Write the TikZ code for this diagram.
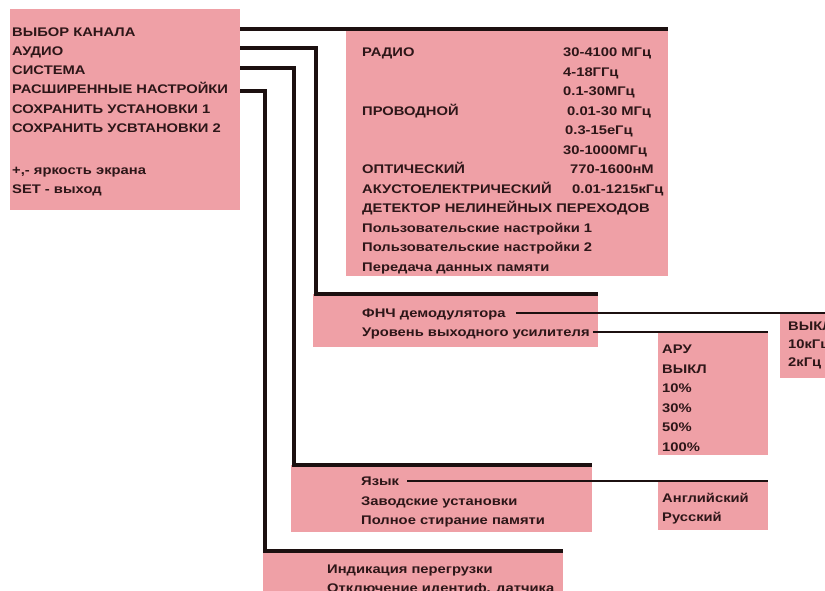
\documentclass[tikz,border=0pt]{standalone}
\usepackage{fontspec}
\newfontfamily\lbfont{Liberation Sans}[FakeStretch=1.18]
\definecolor{boxpink}{RGB}{239,160,166}
\definecolor{ink}{RGB}{45,22,24}
\definecolor{wire}{RGB}{28,16,16}
\begin{document}
\begin{tikzpicture}[x=1pt,y=-1pt,
  box/.style={fill=boxpink, draw=none, inner sep=0pt, anchor=north west},
  lbl/.style={anchor=base west, inner sep=0pt, text=ink, font=\lbfont\bfseries\fontsize{12.5}{14}\selectfont},
  thickwire/.style={draw=wire, line width=4.5pt, line join=miter},
  thinwire/.style={draw=wire, line width=2.3pt}]
\clip (0,0) rectangle (825,590);
\fill[white] (0,0) rectangle (825,590);

% boxes
\node[box, minimum width=230pt, minimum height=201pt] (mainbox) at (10,9) {};
\node[box, minimum width=322pt, minimum height=247pt] (radio) at (346,29) {};
\node[box, minimum width=285pt, minimum height=53pt] (fnch) at (313,294) {};
\node[box, minimum width=110pt, minimum height=123pt] (aru) at (658,332) {};
\node[box, minimum width=60pt, minimum height=65pt] (offbox) at (780,313) {};
\node[box, minimum width=301pt, minimum height=67pt] (lang) at (291,465) {};
\node[box, minimum width=110pt, minimum height=49pt] (eng) at (658,481) {};
\node[box, minimum width=300pt, minimum height=50pt] (ind) at (263,551) {};

% main box texts
\node[lbl] (m1) at (12,36.5) {ВЫБОР КАНАЛА};
\node[lbl] (m2) at (12,55.5) {АУДИО};
\node[lbl] (m3) at (12,74.5) {СИСТЕМА};
\node[lbl] (m4) at (12,93.5) {РАСШИРЕННЫЕ НАСТРОЙКИ};
\node[lbl] (m5) at (12,113) {СОХРАНИТЬ УСТАНОВКИ 1};
\node[lbl] (m6) at (12,132) {СОХРАНИТЬ УСВТАНОВКИ 2};
\node[lbl] (m7) at (12,174) {+,- яркость экрана};
\node[lbl] (m8) at (12,193) {SET - выход};

% radio box texts
\node[lbl] (r1) at (362,56.5) {РАДИО};
\node[lbl] (r1v) at (563,56.5) {30-4100 МГц};
\node[lbl] (r2v) at (563,76) {4-18ГГц};
\node[lbl] (r3v) at (563,95.5) {0.1-30МГц};
\node[lbl] (r4) at (362,115) {ПРОВОДНОЙ};
\node[lbl] (r4v) at (567,115) {0.01-30 МГц};
\node[lbl] (r5v) at (565,134.5) {0.3-15еГц};
\node[lbl] (r6v) at (563,154) {30-1000МГц};
\node[lbl] (r7) at (362,173.5) {ОПТИЧЕСКИЙ};
\node[lbl] (r7v) at (570,173.5) {770-1600нМ};
\node[lbl] (r8) at (362,193) {АКУСТОЕЛЕКТРИЧЕСКИЙ};
\node[lbl] (r8v) at (572,193) {0.01-1215кГц};
\node[lbl] (r9) at (362,212.5) {ДЕТЕКТОР НЕЛИНЕЙНЫХ ПЕРЕХОДОВ};
\node[lbl] (r10) at (362,232) {Пользовательские настройки 1};
\node[lbl] (r11) at (362,251.5) {Пользовательские настройки 2};
\node[lbl] (r12) at (362,271) {Передача данных памяти};

% audio box texts
\node[lbl] (a1) at (362,317.5) {ФНЧ демодулятора};
\node[lbl] (a2) at (362,336.5) {Уровень выходного усилителя};

% level box
\node[lbl] (v1) at (662,353.5) {АРУ};
\node[lbl] (v2) at (662,373) {ВЫКЛ};
\node[lbl] (v3) at (662,392.5) {10\%};
\node[lbl] (v4) at (662,412) {30\%};
\node[lbl] (v5) at (662,431.5) {50\%};
\node[lbl] (v6) at (662,451) {100\%};

% filter box
\node[lbl] (o1) at (788,330.5) {ВЫКЛ};
\node[lbl] (o2) at (788,348.5) {10кГц};
\node[lbl] (o3) at (788,366.5) {2кГц};

% system box
\node[lbl] (s1) at (361,485.5) {Язык};
\node[lbl] (s2) at (361,505) {Заводские установки};
\node[lbl] (s3) at (361,524.5) {Полное стирание памяти};

% language box
\node[lbl] (e1) at (662,502.5) {Английский};
\node[lbl] (e2) at (662,521.5) {Русский};

% advanced box
\node[lbl] (i1) at (327,573) {Индикация перегрузки};
\node[lbl] (i2) at (327,592) {Отключение идентиф. датчика};

% thick connectors from the main menu
\draw[thickwire] (mainbox.east |- radio.north) -- (radio.north east);
\draw[thickwire] (mainbox.east |- 0,48) -| ([xshift=3pt]fnch.north west) -- (fnch.north east);
\draw[thickwire] (mainbox.east |- 0,68) -| ([xshift=3pt]lang.north west) -- (lang.north east);
\draw[thickwire] (mainbox.east |- 0,91) -| ([xshift=2pt]ind.north west) -- (ind.north east);

% thin connectors
\path (a1.east) ++(10,0) coordinate (a1end);
\draw[thinwire] (a1end |- offbox.north) -- (offbox.north east);
\path (a2.east) ++(3,0) coordinate (a2end);
\draw[thinwire] (a2end |- aru.north) -- (aru.north east);
\path (s1.east) ++(8,0) coordinate (s1end);
\draw[thinwire] (s1end |- eng.north) -- (eng.north east);
\end{tikzpicture}
\end{document}
